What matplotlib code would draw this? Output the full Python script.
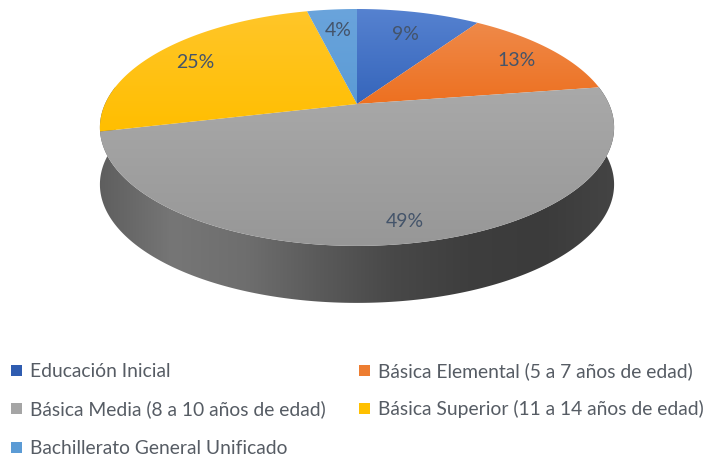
import numpy as np
import matplotlib
matplotlib.use("Agg")
import matplotlib.pyplot as plt
from matplotlib.patches import Polygon, Rectangle
from matplotlib.colors import LinearSegmentedColormap

categories = ["Educación Inicial", "Básica Elemental (5 a 7 años de edad)",
              "Básica Media (8 a 10 años de edad)", "Básica Superior (11 a 14 años de edad)",
              "Bachillerato General Unificado"]
values = [9.4, 13.2, 48.7, 24.9, 3.8]
tops = ["#5682d0", "#ef8a4a", "#a9a9a9", "#ffc62a", "#6aa4dc"]
bottoms = ["#3565bb", "#ed7020", "#979797", "#ffbe00", "#5b9bd5"]
legend_colors = ["#2f5cb0", "#ed7d31", "#a5a5a5", "#ffc000", "#5b9bd5"]
text_color = "#44546a"

plt.rcParams["font.family"] = ["Lato", "DejaVu Sans"]
fig = plt.figure(figsize=(7.07, 4.56), dpi=100)
ax = fig.add_axes([0, 0, 1, 1])
ax.set_xlim(0, 707)
ax.set_ylim(456, 0)
ax.axis("off")
ax.set_autoscale_on(False)

cx, cy, a, b, k = 357, 105, 252, 113.8, 0.198
depth = 57


def project(theta):
    u, v = np.sin(theta), np.cos(theta)
    s = 1 / (1 + k * v)
    return cx + a * u * s, cy - b * v * s


def gradient(verts, stops, horizontal, ext, z):
    patch = Polygon(verts, closed=True, facecolor="none", edgecolor="none", zorder=z)
    ax.add_patch(patch)
    cmap = LinearSegmentedColormap.from_list("g", stops)
    grad = np.linspace(0, 1, 256)
    grad = grad[None, :] if horizontal else grad[:, None]
    im = ax.imshow(grad, cmap=cmap, extent=ext, aspect="auto", zorder=z, origin="upper")
    im.set_clip_path(patch)


# side wall: the lower outline extruded downward
t = np.linspace(np.pi * 0.45, np.pi * 1.55, 400)
xs, ys = project(t)
wall = np.column_stack([np.r_[xs, xs[::-1]], np.r_[ys, ys[::-1] + depth]])
gradient(wall,
         ["#5e5e5e", "#767676", "#6e6e6e", "#5a5a5a", "#484848", "#3e3e3e", "#3b3b3b", "#444444"],
         True, (98, 616, 320, 80), 1)

# top faces
cum = np.r_[0, np.cumsum(values)] / sum(values) * 2 * np.pi
for i in range(len(values)):
    th = np.linspace(cum[i], cum[i + 1], 200)
    x, y = project(th)
    poly = np.column_stack([np.r_[cx, x], np.r_[cy, y]])
    y0, y1 = min(y.min(), cy) - 1, max(y.max(), cy) + 1
    gradient(poly, [tops[i], bottoms[i]], False, (0, 707, y1, y0), 2)

# percentage labels
label_xy = [(405, 34), (517, 61), (405, 222), (195, 62), (338, 31)]
for v, (xl, yl) in zip(values, label_xy):
    ax.text(xl, yl, f"{v:.0f}%", ha="center", va="center", fontsize=14, color=text_color, zorder=3)

# legend
entries = [(14, 371), (362, 371), (14, 409), (362, 409), (14, 448)]
for (xl, yl), name, col in zip(entries, categories, legend_colors):
    ax.add_patch(Rectangle((xl - 3, yl - 5), 11, 11, facecolor=col, edgecolor="none", zorder=3))
    ax.text(xl + 16, yl + 6, name, ha="left", va="baseline", fontsize=13.85, color="#565c64", zorder=3)

fig.savefig("out.png", dpi=100)
